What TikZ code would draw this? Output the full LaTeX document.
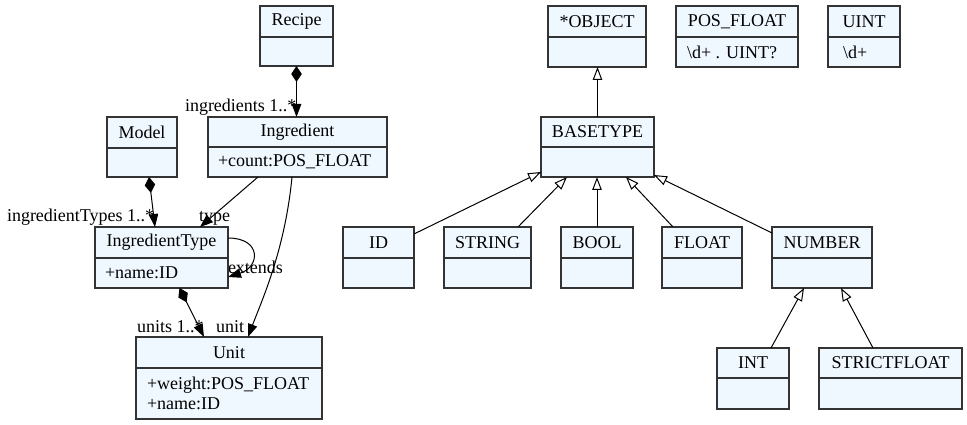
\documentclass[tikz,border=0pt]{standalone}
\usepackage{fontspec}
\setmainfont{Liberation Serif}
\usetikzlibrary{arrows.meta,calc}
\definecolor{clsfill}{HTML}{F0F8FF}
\definecolor{clsdraw}{HTML}{333333}
\tikzset{
  cls/.style={draw=clsdraw, fill=clsfill, line width=1.3pt, inner sep=0pt, outer sep=0pt, rectangle},
  txt/.style={inner sep=0pt, outer sep=0pt, font=\fontsize{18}{20}\selectfont},
  edge/.style={line width=1pt, black},
  gen/.style={edge, -{Triangle[open, length=13pt, width=9.5pt, fill=white]}},
  comp/.style={edge, {Diamond[length=16pt, width=10.5pt]}-{Triangle[length=13pt, width=9.5pt]}},
  assoc/.style={edge, -{Triangle[length=13pt, width=9.5pt]}},
  lbl/.style={txt, anchor=base west},
}
\newcommand\umlbox[9]{%
  \node[cls, minimum width={(#4-#2)*1pt}, minimum height={(#5-#3)*1pt}] (#1) at ({(#2+#4)/2},{(#3+#5)/2}) {};
  \draw[clsdraw, line width=1.3pt] (#2,#6) -- (#4,#6);
  \node[txt] (#1-t) at ({(#2+#4)/2},{(#3+#6)/2}) {#7};
  \node[txt, anchor=west, align=left] (#1-a) at (#8,{(#6+#5)/2}) {#9};
}
\begin{document}
\begin{tikzpicture}[x=1pt, y=-1pt]
\useasboundingbox (0,0) rectangle (967,425);

% labels
\node[lbl] (l-ingr) at (185,112) {ingredients 1..*};
\node[lbl] (l-itypes) at (7,222) {ingredientTypes 1..*};
\node[lbl] (l-type) at (199,222) {type};
\node[lbl] (l-ext) at (228,273) {extends};
\node[lbl] (l-units) at (137,332) {units 1..*};
\node[lbl] (l-unit) at (216,332) {unit};

% classes
\umlbox{recipe}{260}{6}{333}{66}{37}{Recipe}{270}{}
\umlbox{model}{107}{117}{177}{177}{148}{Model}{117}{}
\umlbox{ingredient}{208}{117}{387}{177}{147}{Ingredient}{218}{+count:POS\_FLOAT}
\umlbox{itype}{95}{227}{228}{288}{258}{IngredientType}{105}{+name:ID}
\umlbox{unit}{136}{337}{322}{419}{368}{Unit}{147}{+weight:POS\_FLOAT\\+name:ID}
\umlbox{object}{548}{6}{646}{67}{37}{*OBJECT}{558}{}
\umlbox{posfloat}{676}{6}{798}{67}{37}{POS\_FLOAT}{687}{\textbackslash d+ . UINT?}
\umlbox{uint}{828}{6}{900}{67}{37}{UINT}{843}{\textbackslash d+}
\umlbox{basetype}{541}{117}{654}{177}{147}{BASETYPE}{551}{}
\umlbox{id}{343}{227}{414}{288}{258}{ID}{353}{}
\umlbox{string}{444}{227}{531}{288}{258}{STRING}{454}{}
\umlbox{bool}{561}{227}{633}{288}{258}{BOOL}{571}{}
\umlbox{float}{662}{227}{742}{288}{258}{FLOAT}{672}{}
\umlbox{number}{772}{227}{872}{288}{258}{NUMBER}{782}{}
\umlbox{int}{717}{348}{789}{409}{378}{INT}{727}{}
\umlbox{strictfloat}{819}{348}{962}{409}{378}{STRICTFLOAT}{829}{}

% associations
\draw[comp] (recipe.south) -- (recipe.south |- ingredient.north);
\draw[comp] ([xshift=7pt]model.south) -- ([xshift=-6.5pt]itype.north);
\draw[assoc] ([xshift=-39.5pt]ingredient.south) -- ([xshift=38.5pt]itype.north);
\draw[assoc] ([xshift=-5.5pt]ingredient.south) .. controls +(-7,73) and +(14,-37) .. ([xshift=19pt]unit.north);
\draw[comp] ([xshift=18pt]itype.south) -- ([xshift=-25pt]unit.north);
\draw[assoc] ([yshift=19.5pt]itype.east) .. controls +(34,0) and +(32,-10) .. ([yshift=-19.5pt]itype.east);

% generalizations
\draw[gen] (basetype.north) -- (basetype.north |- object.south);
\draw[gen] ([yshift=23.5pt]id.east) -- ([yshift=-25pt]basetype.west);
\draw[gen] ([xshift=30.5pt]string.north) -- ([xshift=-30.5pt]basetype.south);
\draw[gen] (bool.north) -- (bool.north |- basetype.south);
\draw[gen] ([xshift=-29pt]float.north) -- ([xshift=28.5pt]basetype.south);
\draw[gen] ([yshift=24.5pt]number.west) -- ([yshift=-28pt]basetype.east);
\draw[gen] ([xshift=18pt]int.north) -- ([xshift=-18pt]number.south);
\draw[gen] ([xshift=-17.5pt]strictfloat.north) -- ([xshift=19pt]number.south);
\end{tikzpicture}
\end{document}
